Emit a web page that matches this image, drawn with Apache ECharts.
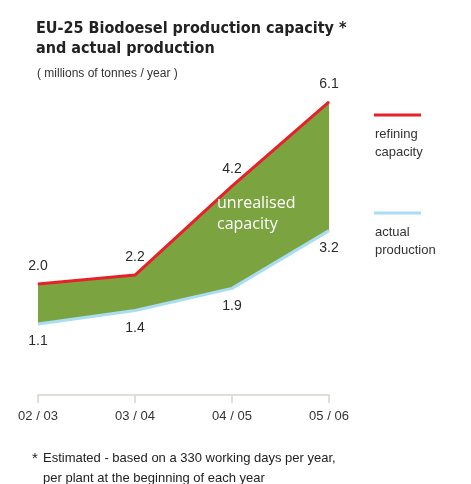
<!DOCTYPE html>
<html>
<head>
<meta charset="utf-8">
<script src="https://cdn.jsdelivr.net/npm/echarts@6/dist/echarts.min.js"></script>
<style>
html,body{margin:0;padding:0;background:#fff;}
#chart{width:471px;height:484px;}
</style>
</head>
<body>
<div id="chart"></div>
<script>
const categories = ['02 / 03', '03 / 04', '04 / 05', '05 / 06'];
const refiningCapacity = [2.0, 2.2, 4.2, 6.1];
const actualProduction = [1.1, 1.4, 1.9, 3.2];

const chart = echarts.init(document.getElementById('chart'), null, {renderer: 'canvas'});
const fmt = p => p.value.toFixed(1);
const labelFont = {fontFamily: 'Liberation Sans, Arial, sans-serif', fontSize: 14, color: '#2a2a2a'};

chart.setOption({
  animation: false,
  backgroundColor: '#fff',
  title: [
    {
      text: 'EU-25 Biodoesel production capacity *\nand actual production',
      left: 31, top: 14,
      textStyle: {fontFamily: 'DejaVu Sans Condensed, sans-serif', fontWeight: 'bold', fontSize: 16, lineHeight: 20, color: '#222'}
    },
    {
      text: '( millions of tonnes / year )',
      left: 32, top: 63,
      textStyle: {fontFamily: 'Liberation Sans, Arial, sans-serif', fontWeight: 'normal', fontSize: 12, color: '#333'}
    }
  ],
  grid: {left: 38, right: 142, top: 84, bottom: 89, containLabel: false},
  xAxis: {
    type: 'category',
    data: categories,
    boundaryGap: false,
    z: 10,
    axisLine: {onZero: false, lineStyle: {color: '#d6d6cc', width: 1.5}},
    axisTick: {show: true, inside: false, length: 8, lineStyle: {color: '#d6d6cc', width: 1.5}},
    axisLabel: {margin: 15, fontFamily: 'Liberation Sans, Arial, sans-serif', fontSize: 13, color: '#333'},
    splitLine: {show: false}
  },
  yAxis: {
    type: 'value', min: -0.5, max: 6.5, show: false, splitLine: {show: false}
  },
  series: [
    {
      name: 'refining capacity',
      type: 'line',
      data: refiningCapacity,
      symbol: 'circle', symbolSize: 1,
      itemStyle: {color: '#e8202a'},
      lineStyle: {color: '#e8202a', width: 3},
      areaStyle: {color: '#7ba441', opacity: 1, origin: 'start'},
      label: Object.assign({show: true, position: 'top', distance: 10, formatter: fmt}, labelFont),
      z: 2
    },
    {
      name: 'actual production',
      type: 'line',
      data: actualProduction,
      symbol: 'circle', symbolSize: 1,
      itemStyle: {color: '#a9ddf3'},
      lineStyle: {color: '#a9ddf3', width: 3},
      areaStyle: {color: '#ffffff', opacity: 1, origin: 'start'},
      label: Object.assign({show: true, position: 'bottom', distance: 10, formatter: fmt}, labelFont),
      z: 3
    }
  ],
  graphic: [
    {type: 'line', shape: {x1: 374, y1: 115, x2: 421, y2: 115}, style: {stroke: '#e8202a', lineWidth: 3}},
    {type: 'text', x: 375, y: 134, style: {text: 'refining', fontFamily: 'Liberation Sans, Arial, sans-serif', fontSize: 13, fill: '#333', verticalAlign: 'middle'}},
    {type: 'text', x: 375, y: 152, style: {text: 'capacity', fontFamily: 'Liberation Sans, Arial, sans-serif', fontSize: 13, fill: '#333', verticalAlign: 'middle'}},
    {type: 'line', shape: {x1: 374, y1: 213, x2: 421, y2: 213}, style: {stroke: '#a9ddf3', lineWidth: 3}},
    {type: 'text', x: 375, y: 232, style: {text: 'actual', fontFamily: 'Liberation Sans, Arial, sans-serif', fontSize: 13, fill: '#333', verticalAlign: 'middle'}},
    {type: 'text', x: 375, y: 250, style: {text: 'production', fontFamily: 'Liberation Sans, Arial, sans-serif', fontSize: 13, fill: '#333', verticalAlign: 'middle'}},
    {type: 'text', x: 217, y: 203, z: 10, style: {text: 'unrealised', fontFamily: 'Open Sans, Lato, sans-serif', fontSize: 16, fill: '#ffffff', verticalAlign: 'middle'}},
    {type: 'text', x: 217, y: 224, z: 10, style: {text: 'capacity', fontFamily: 'Open Sans, Lato, sans-serif', fontSize: 16, fill: '#ffffff', verticalAlign: 'middle'}},
    {type: 'text', x: 32, y: 459, style: {text: '*', fontFamily: 'Liberation Sans, Arial, sans-serif', fontSize: 15, fill: '#222', verticalAlign: 'middle'}},
    {type: 'text', x: 43, y: 458, style: {text: 'Estimated - based on a 330 working days per year,', fontFamily: 'Liberation Sans, Arial, sans-serif', fontSize: 13, fill: '#222', verticalAlign: 'middle'}},
    {type: 'text', x: 43, y: 478, style: {text: 'per plant at the beginning of each year', fontFamily: 'Liberation Sans, Arial, sans-serif', fontSize: 13, fill: '#222', verticalAlign: 'middle'}}
  ]
});
</script>
</body>
</html>
